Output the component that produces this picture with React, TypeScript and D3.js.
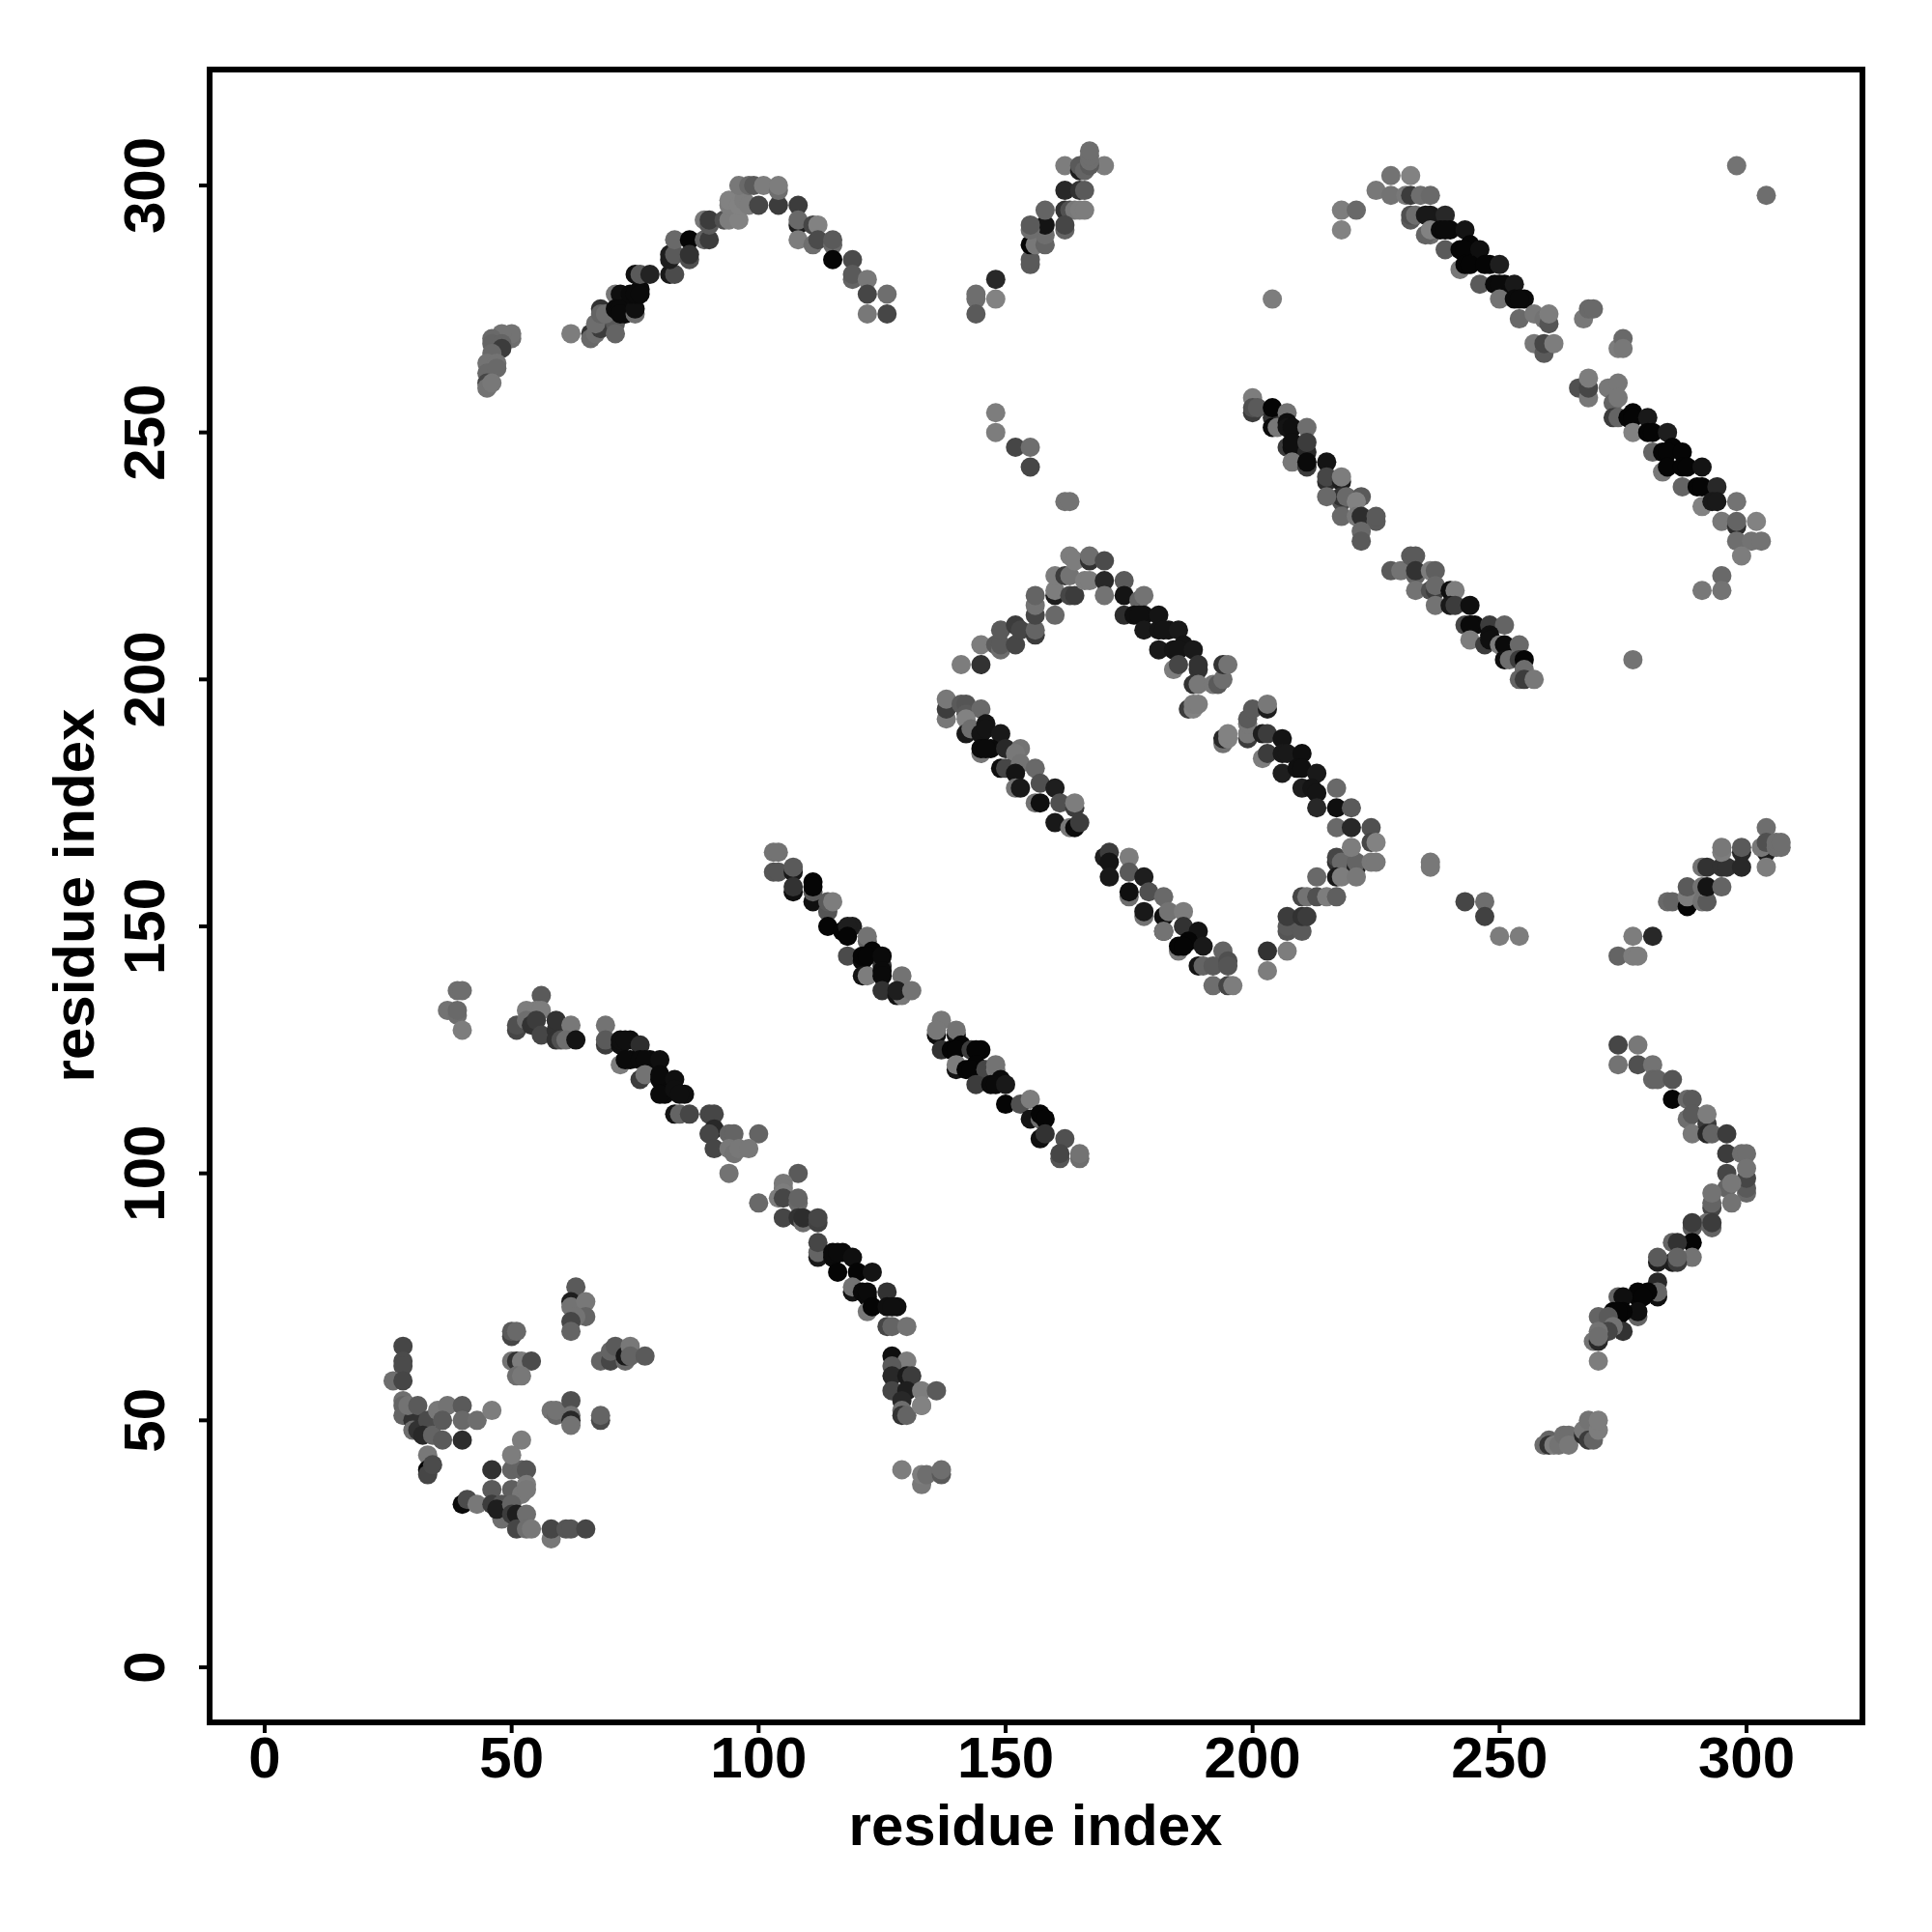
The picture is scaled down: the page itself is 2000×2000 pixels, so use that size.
import React from "react";
import * as d3 from "d3";

type P = [number, number, number];

const tickValues = [0, 50, 100, 150, 200, 250, 300];
const axisTitle = "residue index";

const lowerLeftCluster: P[] = [
[28,65,70],[28,62,75],[28,61,75],[26,58,110],[28,58,70],[28,54,110],[28,53,100],[28,51,100],[30,50,50],[29,53,115],[31,53,90],[30,48,110],[31,48,50],[33,50,75],[32,47,40],[34,47,100],[36,46,90],[35,52,120],[37,53,115],[36,50,90],[40,53,90],[40,50,105],[43,50,110],[46,52,125],[40,46,45],
[33,43,120],[33,40,5],[33,39,70],[34,41,75],[40,33,10],[41,34,75],[43,33,120],[46,40,50],[46,36,90],[50,40,100],[52,40,100],[53,40,85],[52,46,125],[50,43,125],[50,36,95],[53,37,125],[52,35,120],[53,36,120],[46,33,60],[48,33,85],[48,30,110],[47,32,30],[50,33,100],[50,31,60],[51,31,30],[51,28,70],[53,31,110],[53,28,110],[54,28,120],[58,26,120],[58,28,70],[61,28,85],[62,28,85],[65,28,70],
[50,67,70],[50,68,90],[51,68,105],[50,62,115],[51,62,50],[52,62,125],[54,62,75],[51,59,110],[52,59,120],[58,52,115],[59,51,105],[59,52,115],[62,54,80],[62,51,115],[62,50,40],[62,49,115],[68,50,75],[68,51,100],
[63,77,90],[62,74,30],[62,73,115],[65,74,120],[65,71,100],[63,71,115],[62,70,70],[62,68,100],[68,62,100],[70,62,70],[70,64,100],[71,65,90],[73,62,105],[73,63,25],[74,65,120],[74,63,100],[77,63,90],
];

const topArc: P[] = [
[50,269,110],[50,270,115],[48,270,115],[46,269,105],[46,268,100],[48,268,100],[48,267,60],[46,266,105],[45,264,115],[47,264,115],[45,262,105],[47,263,105],[45,260,70],[45,259,115],[46,260,120],
[62,270,125],[66,270,50],[66,269,105],[67,270,110],[68,271,60],[67,272,110],[68,275,50],[68,274,100],[71,272,90],[71,270,100],[69,274,110],[71,278,120],[72,278,15],[71,275,10],[73,274,10],[72,275,10],[72,274,10],[75,274,110],[75,275,15],[74,278,10],[76,279,10],[75,278,10],[76,278,10],[75,282,15],[76,282,90],[78,282,35],
[82,282,25],[83,282,75],[82,285,30],[82,286,30],[83,286,90],[83,289,105],[86,289,5],[86,285,80],[86,286,50],[89,289,100],[90,289,60],[89,293,120],[90,292,90],[90,293,60],[93,293,80],[94,293,125],[96,293,130],[94,296,125],[94,297,130],[96,296,130],[97,297,125],[98,296,125],[100,296,70],[104,296,60],[96,300,120],[98,300,105],[99,300,90],[101,300,125],[104,299,110],[104,300,125],
[108,296,60],[108,292,30],[108,293,105],[108,289,125],[111,288,110],[111,292,70],[112,292,130],[112,289,75],[115,288,105],[115,289,90],[115,285,5],[119,285,75],[119,281,100],[119,282,90],[122,281,120],[122,278,70],[126,278,110],[122,274,120],[126,274,70],
];

const topMiddleArc: P[] = [
[148,281,40],[144,277,110],[144,278,110],[148,277,130],[144,274,90],[155,284,90],[155,285,90],[155,288,5],[156,288,120],[158,288,100],[158,290,110],[158,292,20],[155,291,110],[155,292,90],[158,295,100],[162,299,40],[165,299,50],[166,299,90],[162,295,50],[163,295,80],[164,295,120],[165,295,125],[166,295,125],[162,291,100],[162,292,70],
[162,304,125],[170,304,125],[165,303,30],[165,304,90],[166,303,100],[167,304,90],[167,305,110],[167,306,110],[167,307,110],[148,254,125],[148,250,125],[152,247,70],[155,247,110],[155,243,70],[162,236,115],[163,236,115],
];

const bandUpperRight: P[] = [
[225,299,120],[228,298,115],[228,302,115],[232,302,130],[218,295,125],[221,295,105],[218,291,130],[204,277,125],[231,298,120],[232,298,60],[234,298,110],[236,298,105],[232,293,90],[232,294,80],[233,294,110],[236,290,110],[236,294,25],[235,294,25],[239,294,40],[235,290,100],[236,291,130],[238,291,10],[240,291,10],[239,291,10],[243,291,20],[239,287,90],[242,287,5],[244,288,5],[243,287,5],[246,287,15],[242,283,120],[243,284,5],[244,284,5],[248,284,5],[247,284,5],[250,284,30],[246,280,90],[249,280,10],[251,280,10],[250,280,10],[253,280,25],[250,277,115],[253,277,10],[255,277,10],[254,277,10],
[254,273,105],[257,274,120],[259,273,115],[260,272,85],[260,274,125],[257,268,120],[259,266,90],[259,268,70],[261,268,125],[267,273,120],[268,275,105],[269,275,105],[274,267,125],[275,269,105],[275,267,120],[298,304,115],[304,298,110],
[266,259,80],[268,257,120],[268,259,70],[268,261,125],[272,259,120],[274,260,120],[273,256,100],[274,257,120],[273,253,60],[274,253,100],[276,253,5],[277,254,5],[277,253,5],[280,253,25],[277,250,130],[280,250,5],[281,250,5],[284,250,30],[281,246,100],[283,246,5],[285,247,5],[284,246,5],[287,246,5],[283,242,120],[284,243,5],[287,243,5],[288,243,5],[291,243,20],[287,239,100],[290,239,5],[291,239,5],[294,239,40],[291,235,130],[293,236,25],[294,236,25],[295,232,120],[298,231,45],[298,232,100],[298,236,115],[302,232,130],[298,228,110],[301,228,115],[303,228,115],[299,225,125],[295,221,105],[291,218,120],[295,218,115],
];

const bandMiddleRight: P[] = [
[200,257,125],[200,254,60],[200,255,80],[201,255,90],[204,253,50],[204,255,5],[207,254,115],[204,251,10],[205,251,120],[207,252,15],[207,251,20],[208,251,15],[211,251,110],[207,247,60],[208,247,15],[208,248,15],[211,246,40],[211,248,60],[208,244,120],[211,243,60],[211,244,10],[215,244,20],[215,240,45],[215,241,70],[218,240,30],[218,241,125],[218,236,80],[218,237,50],[215,237,105],[219,237,105],[222,237,90],[221,236,130],[218,233,105],[221,233,120],[222,233,45],[225,232,90],[225,233,90],[222,230,105],[222,228,90],
[228,222,90],[230,222,115],[232,225,90],[233,225,90],[233,221,100],[233,222,50],[233,218,115],[236,222,125],[237,222,95],[236,218,80],[237,218,60],[237,219,105],[237,215,115],[240,218,15],[241,218,125],[240,215,25],[241,215,60],[244,215,15],[243,211,70],[245,211,10],[244,211,10],[248,211,60],[251,211,100],[244,208,125],[247,207,60],[248,209,15],[248,208,15],[250,207,125],[251,207,10],[254,207,105],[251,204,15],[252,204,110],[254,204,60],[255,204,5],[255,202,110],[254,200,100],[255,200,60],[257,200,120],[277,204,115],
];

const rectUpperLeft: P[] = [
[141,203,125],[145,203,50],[145,207,125],[148,207,90],[149,206,110],[149,207,90],[149,210,90],[152,207,70],[152,211,60],[153,210,70],[156,209,60],[156,210,100],[156,213,70],[156,215,115],[156,217,100],[160,213,105],
[160,217,30],[160,218,125],[160,221,125],[162,221,60],[163,221,115],[163,217,70],[164,217,60],[166,220,125],[167,220,125],[163,225,125],[164,224,125],[167,224,50],[167,225,110],[170,224,75],[170,220,40],[170,217,115],
];

const rectUpperRight: P[] = [
[174,220,90],[174,217,20],[177,216,100],[178,217,115],[174,213,45],[176,213,15],[178,213,15],[177,213,15],[181,213,20],[178,210,25],[181,210,20],[183,210,20],[182,210,20],[185,210,25],[181,206,25],[184,206,20],[186,207,20],[185,206,20],[188,206,25],[184,202,125],[185,203,70],[189,202,50],[189,203,50],[188,199,50],[189,199,120],[192,199,120],[193,199,90],[194,200,110],[194,203,50],[195,203,115],[187,194,60],[188,194,130],[188,195,125],[189,195,125],
[194,187,115],[194,188,40],[195,188,130],[195,189,130],[199,188,60],[199,189,120],[199,191,120],[199,192,90],[200,194,90],[203,194,30],[203,195,120],[202,189,30],[203,189,60],[206,188,20],[202,184,125],[203,185,60],[206,185,25],[207,185,25],[210,185,15],[206,181,30],[209,182,15],[210,182,15],[213,181,25],[210,178,30],[212,178,20],[213,177,20],[217,178,105],[213,174,40],[217,174,15],[220,174,90],
];

const rectLowerRight: P[] = [
[217,170,105],[220,170,40],[224,170,80],[217,163,50],[217,164,70],[218,163,105],[221,162,30],[221,163,100],[220,166,125],[224,167,70],[225,167,130],[224,163,120],[225,163,120],[213,160,105],[217,160,25],[218,160,125],[221,160,120],
[203,141,125],[203,145,50],[207,145,125],[207,149,85],[207,150,90],[210,149,90],[207,152,60],[210,152,50],[211,152,60],[210,156,70],[211,156,115],[213,156,80],[215,156,125],[217,156,95],
];

const rectLeft: P[] = [
[138,192,120],[138,194,60],[138,196,120],[141,195,90],[142,195,85],[142,193,90],[145,194,105],[142,192,130],[142,189,25],[143,190,110],[146,191,20],[145,189,20],[146,190,20],[149,189,25],[145,185,120],[145,186,10],[147,186,10],[146,186,10],[150,186,40],[153,186,115],[152,185,120],[149,182,15],[150,182,70],[153,183,115],[152,181,20],[152,178,115],[153,178,25],[156,182,105],[157,179,80],[160,178,30],[156,175,115],[157,175,15],[161,175,80],[160,171,25],[164,174,60],[164,175,125],[163,170,120],[164,170,10],[165,171,60],
];

const rectBottom: P[] = [
[170,164,30],[171,165,60],[171,163,20],[175,164,125],[171,160,25],[175,161,90],[178,160,30],[175,156,110],[175,157,15],[179,157,80],[182,156,105],[178,152,115],[178,153,25],[182,152,15],[183,153,115],[186,153,125],[186,150,50],[182,149,15],[182,149,115],[189,149,20],[185,145,120],[185,146,5],[187,147,5],[186,146,5],[190,146,25],[194,145,100],[189,142,20],[190,142,100],[192,142,90],[195,143,80],[195,142,85],[192,138,110],[195,138,70],[196,138,125],
];

const midDiagonal: P[] = [
[103,165,115],[104,165,115],[103,161,85],[104,161,85],[107,161,25],[107,162,90],[107,157,15],[107,158,50],[111,155,15],[111,157,90],[111,159,5],[111,158,5],[114,153,85],[114,155,90],[115,155,125],[114,150,5],[117,149,5],[119,150,30],[118,150,30],[118,148,5],[122,147,100],[122,148,115],[118,144,75],[121,143,10],[121,144,5],[123,145,5],[122,144,5],[125,142,50],[125,144,10],[121,140,20],[122,140,125],[125,141,10],[125,140,10],[129,140,115],[125,137,50],[128,136,20],[129,136,120],[128,137,30],[131,137,115],
[137,131,120],[136,128,15],[136,129,120],[140,128,20],[140,129,115],[137,125,50],[139,125,5],[141,126,5],[140,125,5],[143,125,60],[145,125,5],[144,125,5],[140,121,20],[140,122,125],[142,121,5],[144,122,5],[143,121,5],[146,121,70],[148,121,120],[148,122,115],[144,118,60],[147,118,10],[149,119,10],[148,118,10],[150,118,25],[150,114,5],[153,114,80],[155,115,125],[155,111,20],[157,111,110],[157,112,5],[158,111,5],[157,107,15],[158,108,50],[162,107,80],[161,103,85],[161,104,70],[165,103,110],[165,104,115],
];

const lowerArc: P[] = [
[39,137,110],[40,137,110],[37,133,115],[39,132,110],[39,133,105],[40,129,125],
[51,129,70],[51,130,80],[56,136,90],[53,133,125],[55,133,125],[56,133,125],[53,131,110],[54,130,50],[55,131,60],[56,128,70],[59,129,50],[59,131,50],[62,130,120],[59,127,50],[60,127,80],[61,127,110],[63,127,20],
[69,130,115],[69,126,60],[69,127,90],[72,122,125],[72,126,15],[72,127,15],[74,127,15],[73,127,15],[76,126,45],[74,123,10],[73,123,10],[76,123,10],[78,123,10],[77,123,10],[80,123,15],[76,119,60],[77,120,115],[80,119,10],[80,120,10],[83,119,15],[81,116,10],[80,116,10],[83,117,15],[85,116,15],[84,116,15],[83,112,20],[84,112,100],[86,112,70],[90,112,70],[91,112,70],[90,108,115],[91,109,40],[90,108,70],[94,108,100],[95,108,100],[100,108,100],[91,105,70],[94,105,120],[95,104,115],[96,105,120],[98,105,120],[94,100,115],
[108,100,90],[105,98,120],[105,97,120],[105,96,125],[104,95,125],[105,95,70],[100,94,105],[108,94,105],[108,95,100],[105,91,70],[108,91,50],[109,90,110],[109,91,45],[112,90,65],[112,91,70],[112,83,25],[112,84,100],[112,86,70],[115,83,10],[115,84,10],[117,84,10],[116,84,10],[119,83,15],[116,80,5],[120,80,5],[123,80,20],[119,76,20],[119,77,115],[121,76,10],[122,75,10],[122,76,10],[126,76,50],[122,72,120],[123,73,5],[126,73,15],[128,73,15],[127,73,15],[126,69,70],[127,69,100],[130,69,115],
[127,63,15],[130,62,125],[127,61,90],[127,59,40],[130,59,25],[131,59,60],[127,56,70],[130,56,30],[133,56,125],[136,56,90],[129,54,40],[129,52,110],[129,51,50],[130,51,100],[133,53,125],[133,53,130],
[129,40,125],[133,37,120],[133,39,125],[134,39,110],[137,39,90],[137,40,110],
];

const rightArc: P[] = [
[274,126,70],[278,126,120],[274,122,115],[278,122,80],[281,122,115],[281,119,100],[282,119,100],[285,119,85],[285,115,5],[288,115,105],[289,115,90],[288,111,110],[289,112,90],[289,108,120],[292,110,60],[292,112,125],[292,108,40],[293,108,100],[296,108,60],[296,104,60],[299,104,110],[300,104,110],[296,100,70],[300,96,105],[300,97,90],[300,99,70],[300,101,115],[296,97,100],[297,94,115],[297,98,120],[293,93,70],[293,94,100],[293,96,115],[292,90,110],[293,89,100],[293,90,60],[289,89,90],[289,90,60],[289,86,5],[289,83,115],[285,86,100],[286,86,50],[285,82,30],[286,82,60],[286,83,100],[282,82,30],[282,83,90],[282,78,40],[282,75,15],[282,76,100],[278,75,5],[280,76,5],[278,76,5],[279,75,5],[274,75,100],[275,75,15],[278,71,100],[278,72,15],[274,71,5],[273,72,5],[275,72,5],[274,72,5],[275,68,50],[270,71,100],[272,71,90],[273,69,115],[272,68,70],[270,68,115],[269,66,115],[270,66,40],[270,67,110],[270,62,125],
[260,46,100],[259,45,110],[260,45,50],[261,45,125],[262,45,115],[263,47,110],[264,47,110],[264,45,120],[267,47,40],[267,48,120],[268,46,60],[269,46,100],[268,50,115],[270,48,125],[270,50,125],
];

const rightUpperArc: P[] = [
[236,163,120],[236,162,120],[243,155,70],[247,155,110],[247,152,65],[250,148,125],[254,148,125],
[274,144,100],[277,144,125],[278,144,125],[277,148,125],[281,148,40],[284,155,105],[285,155,100],[288,154,5],[288,156,125],[288,158,90],[291,155,115],[292,155,90],[291,158,115],[292,158,20],[295,158,100],[291,162,115],[292,162,50],[295,162,50],[296,162,50],[295,165,125],[295,166,120],[299,165,40],[299,166,90],[299,162,40],[304,165,30],[303,166,120],[304,162,125],[304,170,110],[304,167,80],[306,166,110],[306,167,110],[307,166,110],[307,167,110],
];

const allPoints: P[] = [
  ...lowerLeftCluster, ...topArc, ...topMiddleArc, ...bandUpperRight, ...bandMiddleRight,
  ...rectUpperLeft, ...rectUpperRight, ...rectLowerRight, ...rectLeft, ...rectBottom,
  ...midDiagonal, ...lowerArc, ...rightArc, ...rightUpperArc,
];

const font = "'Liberation Sans', Arial, sans-serif";

export default function App() {
  const x = d3.scaleLinear().domain([0, 300]).range([274, 1808]);
  const y = d3.scaleLinear().domain([0, 300]).range([1726, 192]);
  const box = { left: 217, right: 1928, top: 72, bottom: 1783 };
  return (
    <svg width={2000} height={2000} style={{ position: "absolute", left: 0, top: 0, background: "#fff" }}>
      {allPoints.map(([a, b, g], i) => (
        <circle key={i} cx={x(a)} cy={y(b)} r={10} fill={d3.rgb(g, g, g).formatHex()} />
      ))}
      <rect x={box.left} y={box.top} width={box.right - box.left} height={box.bottom - box.top} fill="none" stroke="#000" strokeWidth={6} />
      {tickValues.map((t) => (
        <g key={t}>
          <line x1={x(t)} x2={x(t)} y1={box.bottom} y2={box.bottom + 11} stroke="#000" strokeWidth={4} />
          <text x={x(t)} y={1840} textAnchor="middle" fontFamily={font} fontWeight={700} fontSize={60}>{t}</text>
          <line x1={box.left - 11} x2={box.left} y1={y(t)} y2={y(t)} stroke="#000" strokeWidth={4} />
          <text transform={`translate(170,${y(t)}) rotate(-90)`} textAnchor="middle" fontFamily={font} fontWeight={700} fontSize={60}>{t}</text>
        </g>
      ))}
      <text x={1072} y={1910} textAnchor="middle" fontFamily={font} fontWeight={700} fontSize={60}>{axisTitle}</text>
      <text transform="translate(97,927) rotate(-90)" textAnchor="middle" fontFamily={font} fontWeight={700} fontSize={60}>{axisTitle}</text>
    </svg>
  );
}
